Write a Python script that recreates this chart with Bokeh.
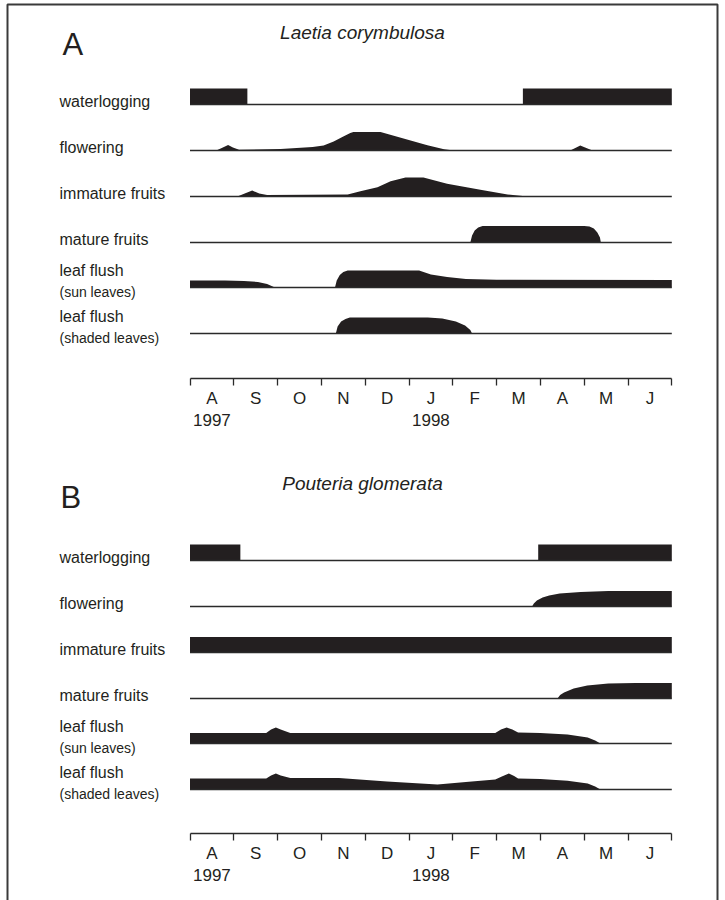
from bokeh.plotting import figure
from bokeh.models import Range1d, LinearAxis, FixedTicker
from bokeh.core.properties import value
from bokeh.embed import file_html
from bokeh.resources import INLINE

# ---------------- data ----------------
months = ["A", "S", "O", "N", "D", "J", "F", "M", "A", "M", "J"]
years = ["1997", "1998"]
year_month_index = [0, 5]

row_labels = ["waterlogging", "flowering", "immature fruits", "mature fruits", "leaf flush", "leaf flush"]
row_sublabels = ["", "", "", "", "(sun leaves)", "(shaded leaves)"]

species_a = "Laetia corymbulosa"
species_b = "Pouteria glomerata"

# x: months since 1 Aug 1997 ; h: intensity (drawn height)
# Panel A - Laetia corymbulosa
a_water_x = [0, 1.31, 1.31, 7.6, 7.6, 11]
a_water_h = [16, 16, 0, 0, 16, 16]
a_flow_x = [0, 0.6, 0.75, 0.87, 0.98, 1.12, 2.07, 2.8, 3.05, 3.28, 3.5, 3.66, 3.73, 4.35, 5.42, 5.8, 6.02, 8.68, 8.82, 8.91, 9.02, 9.19, 11]
a_flow_h = [0, 0, 3, 5.5, 3, 0.8, 1.5, 3.5, 5, 9, 14, 17.5, 18.5, 18.5, 5.3, 1.3, 0, 0, 3, 5, 3, 0, 0]
a_imm_x = [0, 1.08, 1.25, 1.42, 1.58, 1.76, 3.6, 3.89, 4.28, 4.58, 4.92, 5.33, 5.87, 6.63, 7.25, 7.71, 11]
a_imm_h = [0, 0, 3, 6, 3, 1.5, 2, 5.3, 9.3, 15.3, 19, 19, 12.7, 6.7, 2, 0, 0]
a_mat_x = [0, 6.40, 6.44, 6.5, 6.58, 6.68, 9.0, 9.12, 9.22, 9.3, 9.36, 9.38, 11]
a_mat_h = [0, 0, 7, 12, 15, 16.5, 16.5, 16, 14, 10, 5, 0, 0]
a_sun_x = [0, 0.8, 1.23, 1.55, 1.76, 1.94, 3.31, 3.35, 3.42, 3.5, 3.6, 5.23, 5.5, 5.87, 6.3, 7.0, 11]
a_sun_h = [7, 7, 6.6, 5.5, 3.5, 0, 0, 7, 12.5, 15.5, 17, 17, 13, 10.4, 8.5, 7.8, 7.5]
a_shd_x = [0, 3.33, 3.37, 3.45, 3.55, 3.65, 5.43, 5.76, 6.07, 6.28, 6.4, 6.44, 11]
a_shd_h = [0, 0, 7, 12, 14.5, 16, 16, 15, 12, 8, 3.5, 0, 0]

# Panel B - Pouteria glomerata
b_water_x = [0, 1.15, 1.15, 7.95, 7.95, 11]
b_water_h = [16, 16, 0, 0, 16, 16]
b_flow_x = [0, 7.81, 7.85, 7.92, 8.05, 8.2, 8.44, 8.92, 9.55, 11]
b_flow_h = [0, 0, 3, 6, 9, 11, 13, 14.5, 15.5, 15.5]
b_imm_x = [0, 11]
b_imm_h = [15.5, 15.5]
b_mat_x = [0, 8.39, 8.45, 8.54, 8.76, 9.07, 9.55, 10.17, 11]
b_mat_h = [0, 0, 3.5, 6, 10, 13, 15, 15.5, 15.5]
b_sun_x = [0, 1.74, 1.85, 1.96, 2.07, 2.29, 6.97, 7.1, 7.23, 7.36, 7.49, 8.0, 8.62, 9.08, 9.25, 9.37, 11]
b_sun_h = [10.5, 10.5, 14, 16, 14, 10.5, 10.5, 14, 16, 14, 11, 10.5, 9, 6, 3, 0, 0]
b_shd_x = [0, 1.74, 1.85, 1.96, 2.07, 2.29, 3.4, 4.5, 5.65, 6.3, 6.97, 7.12, 7.28, 7.4, 7.49, 8.0, 8.62, 9.08, 9.25, 9.37, 11]
b_shd_h = [11, 11, 14, 16, 14, 11.5, 11.5, 8, 5, 7.5, 10, 13, 16, 13.5, 11, 10.5, 8.7, 6, 3, 0, 0]

panel_a = [(a_water_x, a_water_h), (a_flow_x, a_flow_h), (a_imm_x, a_imm_h),
           (a_mat_x, a_mat_h), (a_sun_x, a_sun_h), (a_shd_x, a_shd_h)]
panel_b = [(b_water_x, b_water_h), (b_flow_x, b_flow_h), (b_imm_x, b_imm_h),
           (b_mat_x, b_mat_h), (b_sun_x, b_sun_h), (b_shd_x, b_shd_h)]

# ---------------- layout ----------------
W, H = 725, 900
X0_PX, MONTH_PX = 189.5, 43.8
N_MONTHS = len(months)


def px2m(px):
    return (px - X0_PX) / MONTH_PX


FONT = "Liberation Sans"
INK = "#231f20"
LINE = "#2a2a2a"

p = figure(width=W, height=H, output_backend="svg", toolbar_location=None,
           x_range=Range1d(px2m(0), px2m(W)), y_range=Range1d(H, 0),
           x_axis_location=None, y_axis_location=None, min_border=0,
           outline_line_color=None, tools="")
p.xgrid.visible = False
p.ygrid.visible = False
p.background_fill_color = "white"
p.border_fill_color = "white"

# frame border (left, top, right)
p.line([px2m(7), px2m(7), px2m(717), px2m(717)], [H, 4, 4, H], line_color="#3a3a3a", line_width=2)

panels = [
    dict(letter="A", letter_y=44, letter_x=62, title=species_a, title_y=32,
         baselines=[104, 150, 196, 242, 287, 333], axis_y=378, data=panel_a),
    dict(letter="B", letter_y=497, letter_x=60, title=species_b, title_y=483,
         baselines=[560, 606, 652, 698, 743, 789], axis_y=833, data=panel_b),
]

for pan in panels:
    p.text(x=[px2m(pan["letter_x"])], y=[pan["letter_y"]], text=[pan["letter"]],
           text_font=value(FONT), text_font_size="31px", text_color=INK,
           text_align="left", text_baseline="middle")
    p.text(x=[px2m(362)], y=[pan["title_y"]], text=[pan["title"]],
           text_font=value(FONT), text_font_size="19px", text_font_style="italic",
           text_color=INK, text_align="center", text_baseline="middle")
    for i, (xs, hs) in enumerate(pan["data"]):
        base = pan["baselines"][i]
        p.varea(x=xs, y1=[base] * len(xs), y2=[base - h for h in hs],
                fill_color=INK)
        p.line([0, N_MONTHS], [base, base], line_color=LINE, line_width=1.3)
        if row_sublabels[i]:
            p.text(x=[px2m(59)], y=[base - 17], text=[row_labels[i]],
                   text_font=value(FONT), text_font_size="16px", text_color=INK,
                   text_align="left", text_baseline="middle")
            p.text(x=[px2m(59)], y=[base + 4], text=[row_sublabels[i]],
                   text_font=value(FONT), text_font_size="14px", text_color=INK,
                   text_align="left", text_baseline="middle")
        else:
            p.text(x=[px2m(59)], y=[base - 3], text=[row_labels[i]],
                   text_font=value(FONT), text_font_size="16px", text_color=INK,
                   text_align="left", text_baseline="middle")

    # month axis
    mid = [k + 0.5 for k in range(N_MONTHS)]
    ax = LinearAxis(fixed_location=pan["axis_y"],
                    ticker=FixedTicker(ticks=mid, minor_ticks=list(range(N_MONTHS + 1))),
                    major_label_overrides={m: lab for m, lab in zip(mid, months)},
                    bounds=(0, N_MONTHS))
    ax.axis_line_color = LINE
    ax.axis_line_width = 1.3
    ax.major_tick_line_color = None
    ax.major_tick_out = 0
    ax.major_tick_in = 0
    ax.minor_tick_line_color = LINE
    ax.minor_tick_line_width = 1.3
    ax.minor_tick_out = 7
    ax.minor_tick_in = 0
    ax.major_label_standoff = 3
    ax.major_label_text_font = FONT
    ax.major_label_text_font_size = "17px"
    ax.major_label_text_color = INK
    p.add_layout(ax, "below")

    # year axis
    ymid = [year_month_index[k] + 0.5 for k in range(len(years))]
    yax = LinearAxis(fixed_location=pan["axis_y"],
                     ticker=FixedTicker(ticks=ymid, minor_ticks=[]),
                     major_label_overrides={m: lab for m, lab in zip(ymid, years)})
    yax.axis_line_color = None
    yax.major_tick_line_color = None
    yax.major_tick_out = 0
    yax.major_tick_in = 0
    yax.minor_tick_line_color = None
    yax.major_label_standoff = 35
    yax.major_label_text_font = FONT
    yax.major_label_text_font_size = "17px"
    yax.major_label_text_color = INK
    p.add_layout(yax, "below")

open("out.html", "w").write(file_html(p, INLINE))
